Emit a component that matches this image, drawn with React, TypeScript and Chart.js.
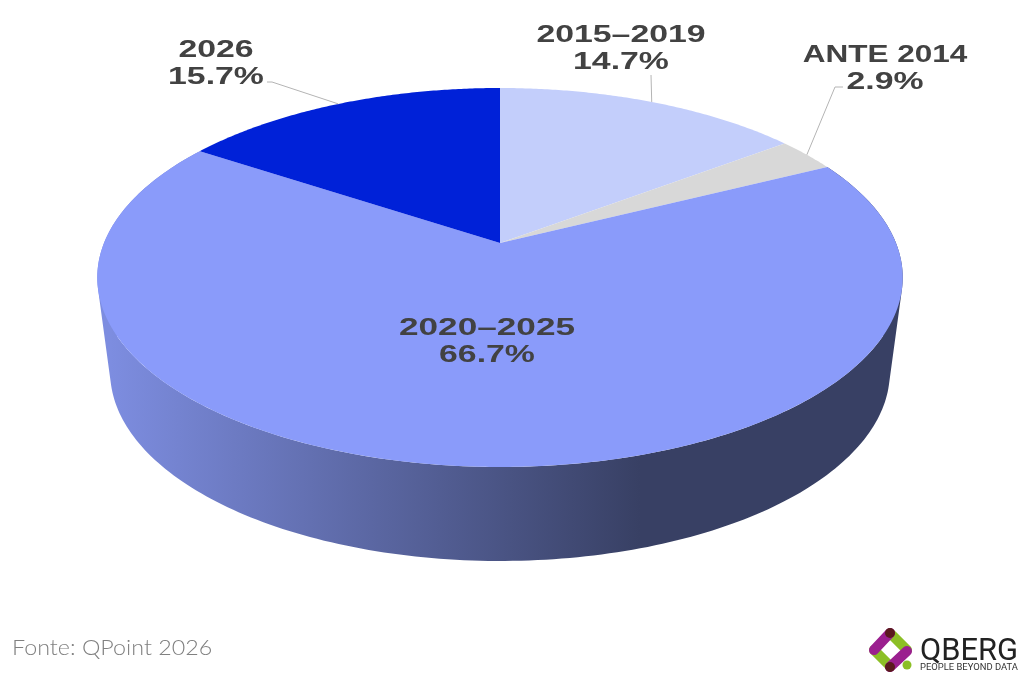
import React, { useEffect, useRef } from "react";
import { Chart, registerables } from "chart.js";

Chart.register(...registerables);

// ---- data ----
const categories = ["2015–2019", "ANTE 2014", "2020–2025", "2026"];
const shares = [14.7, 2.9, 66.7, 15.7];
const sliceColors = ["#c3cefb", "#d8d8d8", "#8a9bfa", "#0021d8"];
const sourceNote = "Fonte: QPoint 2026";
const brandName = "QBERG";
const brandTagline = "PEOPLE BEYOND DATA";

// ---- layout (perspective of the disc) ----
const CX = 500;
const CY = 243;
const TILT = 0.182;
const AX = 396;
const AY = 183.2;
const ELLIPSE_CY = 277.5;
const ELLIPSE_RY = 189.5;
const FLOOR_CY = 372;
const FLOOR_RY = 189;
const FLOOR_SCALE_X = 0.968;

const labelLayout = [
  { x: 621, y: 42, nameStretch: 1.47, elbow: [[651, 75]] },
  { x: 885, y: 61.5, nameStretch: 1.37, elbow: [[843, 87], [835, 87]] },
  { x: 487, y: 335, nameStretch: 1.53, elbow: [] },
  { x: 216, y: 57, nameStretch: 1.47, elbow: [[267, 82], [272, 82]] },
];
const LINE_GAP = 27;
const TEXT_STRETCH = 1.47;

function rim(a: number): [number, number] {
  const u = Math.cos(a);
  const v = Math.sin(a);
  const w = 1 - TILT * v;
  return [CX + (AX * u) / w, CY + (AY * v) / w];
}
function floor(p: [number, number]): [number, number] {
  return [
    CX + (p[0] - CX) * FLOOR_SCALE_X,
    FLOOR_CY + ((p[1] - ELLIPSE_CY) * FLOOR_RY) / ELLIPSE_RY,
  ];
}

function stretchedText(ctx: CanvasRenderingContext2D, text: string, x: number, y: number, sx: number) {
  ctx.save();
  ctx.translate(x, y);
  ctx.scale(sx, 1);
  ctx.fillText(text, 0, 0);
  ctx.restore();
}

const perspectivePie = {
  id: "perspectivePie",
  beforeDatasetsDraw(chart: any) {
    const ctx: CanvasRenderingContext2D = chart.ctx;
    const arcs = chart.getDatasetMeta(0).data;
    ctx.save();

    // side wall, only under the large slice that faces the viewer
    const grad = ctx.createLinearGradient(110, 0, 640, 0);
    grad.addColorStop(0, "#7d8de0");
    grad.addColorStop(1, "#384064");
    const front = arcs[2];
    const steps = 240;
    ctx.beginPath();
    for (let i = 0; i < steps; i++) {
      const a0 = front.startAngle + ((front.endAngle - front.startAngle) * i) / steps;
      const a1 = front.startAngle + ((front.endAngle - front.startAngle) * (i + 1)) / steps;
      const q = [rim(a0), rim(a1)];
      q.push(floor(q[1]), floor(q[0]));
      // every quad gets the same winding so overlaps never cancel out
      let area = 0;
      for (let k = 0; k < 4; k++) {
        const m = q[k];
        const n = q[(k + 1) % 4];
        area += m[0] * n[1] - n[0] * m[1];
      }
      if (area < 0) q.reverse();
      ctx.moveTo(q[0][0], q[0][1]);
      ctx.lineTo(q[1][0], q[1][1]);
      ctx.lineTo(q[2][0], q[2][1]);
      ctx.lineTo(q[3][0], q[3][1]);
      ctx.closePath();
    }
    ctx.fillStyle = grad;
    ctx.fill("nonzero");

    // top face
    arcs.forEach((arc: any) => {
      ctx.beginPath();
      ctx.moveTo(CX, CY);
      const n = Math.max(8, Math.ceil((arc.endAngle - arc.startAngle) * 120));
      for (let i = 0; i <= n; i++) {
        const p = rim(arc.startAngle + ((arc.endAngle - arc.startAngle) * i) / n);
        ctx.lineTo(p[0], p[1]);
      }
      ctx.closePath();
      ctx.fillStyle = arc.options.backgroundColor;
      ctx.fill();
    });

    // leader lines
    ctx.strokeStyle = "#b4b4b4";
    ctx.lineWidth = 1;
    arcs.forEach((arc: any, i: number) => {
      const elbow = labelLayout[i].elbow;
      if (!elbow.length) return;
      const end = rim((arc.startAngle + arc.endAngle) / 2);
      ctx.beginPath();
      ctx.moveTo(elbow[0][0], elbow[0][1]);
      elbow.slice(1).forEach((p) => ctx.lineTo(p[0], p[1]));
      ctx.lineTo(end[0], end[1]);
      ctx.stroke();
    });

    // labels
    ctx.font = 'bold 23px "Liberation Sans"';
    ctx.textAlign = "center";
    ctx.textBaseline = "alphabetic";
    ctx.fillStyle = "#424242";
    categories.forEach((name, i) => {
      const l = labelLayout[i];
      stretchedText(ctx, name, l.x, l.y, l.nameStretch);
      stretchedText(ctx, shares[i].toFixed(1) + "%", l.x, l.y + LINE_GAP, TEXT_STRETCH);
    });

    // source
    ctx.textAlign = "left";
    ctx.font = '300 21px "Lato"';
    ctx.fillStyle = "#808080";
    stretchedText(ctx, sourceNote, 12, 655, 1.11);

    // logo
    ctx.lineCap = "round";
    ctx.lineWidth = 10;
    const seg = (x0: number, y0: number, x1: number, y1: number, c: string) => {
      ctx.strokeStyle = c;
      ctx.beginPath();
      ctx.moveTo(x0, y0);
      ctx.lineTo(x1, y1);
      ctx.stroke();
    };
    seg(892, 635, 907, 650, "#8cbf26");
    seg(874, 650, 889, 665, "#8cbf26");
    seg(907, 651, 890, 667, "#9b1f8f");
    seg(890, 633, 874, 650, "#9b1f8f");
    ctx.fillStyle = "#5a1a1e";
    ctx.beginPath();
    ctx.arc(890, 633, 5, 0, Math.PI * 2);
    ctx.fill();
    ctx.beginPath();
    ctx.arc(890, 667, 5, 0, Math.PI * 2);
    ctx.fill();
    ctx.fillStyle = "#8cbf26";
    ctx.beginPath();
    ctx.arc(907, 665, 4.5, 0, Math.PI * 2);
    ctx.fill();
    ctx.fillStyle = "#222222";
    ctx.font = '400 31px "Roboto"';
    const w1 = ctx.measureText(brandName).width;
    stretchedText(ctx, brandName, 920, 660, 98 / w1);
    ctx.fillStyle = "#333333";
    ctx.font = '400 9.5px "Roboto"';
    const w2 = ctx.measureText(brandTagline).width;
    stretchedText(ctx, brandTagline, 920, 669.5, 98 / w2);

    ctx.restore();
    return false;
  },
};

export default function App() {
  const ref = useRef<HTMLCanvasElement>(null);
  useEffect(() => {
    const chart = new Chart(ref.current!, {
      type: "pie",
      data: {
        labels: categories,
        datasets: [{ data: shares, backgroundColor: sliceColors, borderWidth: 0 }],
      },
      options: {
        animation: false,
        responsive: false,
        devicePixelRatio: 1,
        plugins: { legend: { display: false }, tooltip: { enabled: false } },
      },
      plugins: [perspectivePie],
    } as any);
    return () => chart.destroy();
  }, []);
  return (
    <canvas
      ref={ref}
      width={1024}
      height={677}
      style={{ position: "fixed", left: 0, top: 0, width: 1024, height: 677, background: "#fff" }}
    />
  );
}
